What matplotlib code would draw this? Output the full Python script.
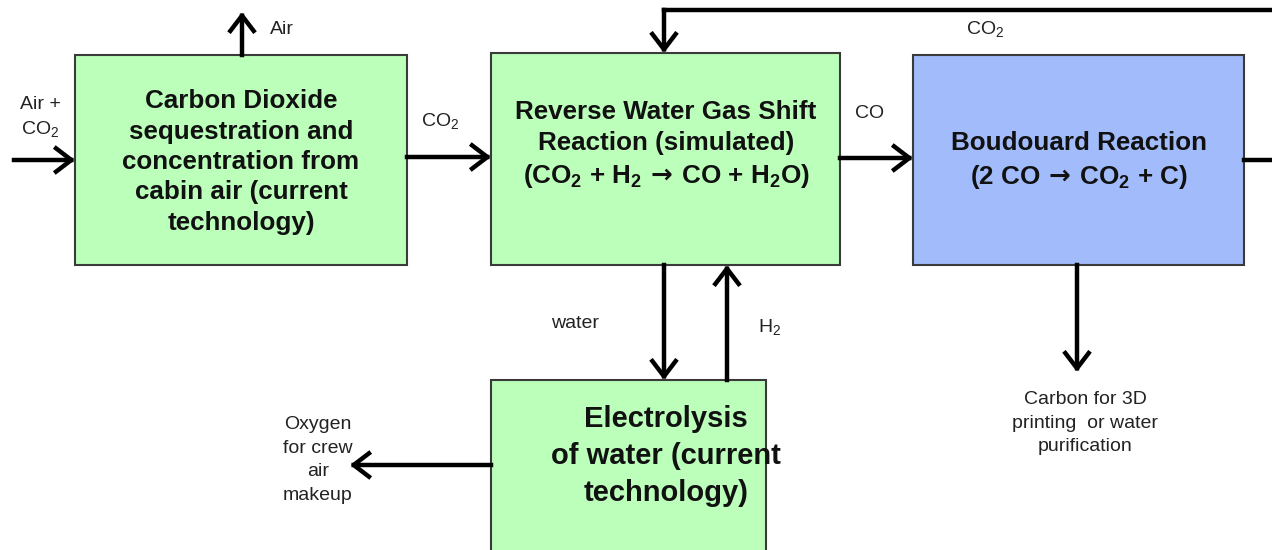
import matplotlib.pyplot as plt
from matplotlib import patches

plt.rcParams['font.family'] = ['Liberation Sans', 'DejaVu Sans']
plt.rcParams['mathtext.fontset'] = 'custom'
plt.rcParams['mathtext.rm'] = 'Liberation Sans'
plt.rcParams['mathtext.bf'] = 'Liberation Sans:bold'
plt.rcParams['mathtext.sf'] = 'DejaVu Sans:bold'

ARR = '$\\,\\mathsf{{\\rightarrow}}\\,$'

# process blocks
box_names = ['capture', 'rwgs', 'boudouard', 'electrolysis']
box_labels = [
    'Carbon Dioxide\nsequestration and\nconcentration from\ncabin air (current\ntechnology)',
    'Reverse Water Gas Shift\nReaction (simulated)\n(CO$_\\mathbf{2}$ + H$_\\mathbf{2}$' + ARR
    + 'CO + H$_\\mathbf{2}$O)',
    'Boudouard Reaction\n(2 CO' + ARR + 'CO$_\\mathbf{2}$ + C)',
    'Electrolysis\nof water (current\ntechnology)',
]
box_colors = ['#bbffbb', '#bbffbb', '#a1bbfb', '#bbffbb']

# stream labels
stream_labels = ['Air +\nCO$_2$', 'Air', 'CO$_2$', 'CO', 'CO$_2$', 'water', 'H$_2$',
                 'Oxygen\nfor crew\nair\nmakeup', 'Carbon for 3D\nprinting  or water\npurification']

# layout in pixels (x0, y0, x1, y1), y downwards
box_xy = {
    'capture': (75, 55, 407, 265),
    'rwgs': (491, 53, 840, 265),
    'boudouard': (913, 55, 1244, 265),
    'electrolysis': (491, 380, 766, 560),
}
text_xy = {
    'capture': (241, 162, 18.7, 1.34),
    'rwgs': (666, 145, 18.7, 1.34),
    'boudouard': (1079, 161, 18.7, 1.34),
    'electrolysis': (666, 456, 21, 1.4),
}
label_xy = [(40, 118), (282, 30), (440, 122), (870, 114), (985, 30), (575, 323),
            (770, 328), (318, 460), (1085, 423)]

fig = plt.figure(figsize=(12.72, 5.5), dpi=100)
ax = fig.add_axes([0, 0, 1, 1])
ax.set_xlim(0, 1272)
ax.set_ylim(550, 0)
ax.axis('off')

for name, label, color in zip(box_names, box_labels, box_colors):
    x0, y0, x1, y1 = box_xy[name]
    ax.add_patch(patches.Rectangle((x0, y0), x1 - x0, y1 - y0, facecolor=color,
                                   edgecolor='#3a3a3a', linewidth=1.5, zorder=2))
    tx, ty, fs, ls = text_xy[name]
    ax.text(tx, ty, label, ha='center', va='center', fontsize=fs, fontweight='bold',
            linespacing=ls, color='#111111', zorder=3)


def arrow(x0, y0, x1, y1):
    ax.add_patch(patches.FancyArrowPatch((x0, y0), (x1, y1),
                                         arrowstyle='->,head_length=0.55,head_width=0.42',
                                         mutation_scale=20, lw=3.2, color='black',
                                         shrinkA=0, shrinkB=0, zorder=4,
                                         capstyle='projecting'))


arrow(14, 160, 75, 160)      # air + co2 in
arrow(242, 55, 242, 12)      # air out
arrow(407, 157, 491, 157)    # co2 to rwgs
arrow(840, 158, 913, 158)    # co to boudouard
arrow(664, 265, 664, 380)    # water down
arrow(727, 380, 727, 265)    # h2 up
arrow(491, 465, 350, 465)    # oxygen out
arrow(1077, 265, 1077, 372)  # carbon out
# co2 recycle loop
ax.plot([1272, 664], [10, 10], color='black', lw=3.2, solid_capstyle='projecting', zorder=4)
arrow(664, 10, 664, 53)
ax.plot([1244, 1272], [160, 160], color='black', lw=3.2, zorder=4)

for text, (lx, ly) in zip(stream_labels, label_xy):
    ax.text(lx, ly, text, ha='center', va='center', fontsize=14, color='#222222',
            linespacing=1.5, zorder=5)

fig.savefig('out.png', dpi=100)
